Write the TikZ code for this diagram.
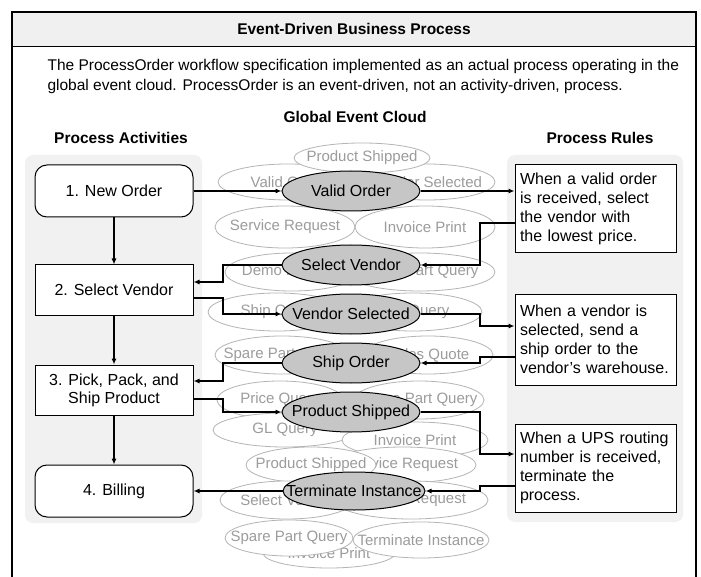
\documentclass[tikz,border=0pt]{standalone}
\usepackage{fontspec}
\setmainfont{Liberation Sans}
\usetikzlibrary{shapes.geometric,arrows.meta,calc}
\definecolor{panelgray}{HTML}{F1F1F1}
\definecolor{titlegray}{HTML}{F0F0F0}
\definecolor{keygray}{HTML}{C6C6C6}
\definecolor{cloudline}{HTML}{B4B4B4}
\definecolor{cloudtext}{HTML}{9C9C9C}
\begin{document}
\begin{tikzpicture}[x=1pt,y=-1pt,
  font=\fontsize{16}{18}\selectfont,
  arr/.style={line width=1.1pt, -{Latex[length=6pt,width=5pt]}},
  panel/.style={fill=panelgray, draw=none, rounded corners=8pt},
  actbox/.style={draw, line width=1pt, fill=white, minimum width=158pt, minimum height=50pt, align=center, inner sep=0pt},
  actround/.style={actbox, rounded corners=12pt, minimum height=52pt},
  rulebox/.style={draw, line width=1pt, fill=white, text width=151pt, minimum width=161pt, align=left, inner xsep=5pt, font=\fontsize{16}{19}\selectfont},
  cloudev/.style={ellipse, draw=cloudline, fill=white, text=cloudtext, inner sep=0pt, line width=0.8pt, font=\fontsize{15}{17}\selectfont},
  keyev/.style={ellipse, draw=black, fill=keygray, inner sep=0pt, line width=1pt, minimum width=138pt, minimum height=40pt},
  hdr/.style={font=\bfseries\fontsize{15.5}{18}\selectfont}
]
\useasboundingbox (0,0) rectangle (701,577);
\fill[white] (0,0) rectangle (701,577);
% frame and title
\fill[titlegray] (12,12) rectangle (696,47);
\draw[line width=1.2pt] (12,577) -- (12,12) -- (696,12) -- (696,577);
\draw[line width=1pt] (12,47) -- (696,47);
\node[hdr] (title) at (354,29) {Event-Driven Business Process};
\node[anchor=west, align=left, font=\fontsize{15.5}{20}\selectfont] (desc) at (44,76)
  {The ProcessOrder workflow specification implemented as an actual process operating in the\\
   global event cloud. ProcessOrder is an event-driven, not an activity-driven, process.};
\node[hdr] (hcloud) at (355,117) {Global Event Cloud};
\node[hdr] (hact) at (121,138) {Process Activities};
\node[hdr] (hrule) at (600,138) {Process Rules};
% panels
\path[panel] (25,155) rectangle (202,523);
\path[panel] (507,155) rectangle (683,522);
% background cloud events
\node[cloudev, minimum width=140pt, minimum height=36pt] (c1) at (288,182) {\makebox[0pt]{Valid Order}};
\node[cloudev, minimum width=136pt, minimum height=36pt] (c2) at (427,182) {\makebox[0pt]{Vendor Selected}};
\node[cloudev, minimum width=136pt, minimum height=30pt] (c3) at (362,158) {\makebox[0pt]{Product Shipped}};
\node[cloudev, minimum width=140pt, minimum height=42pt] (c4) at (285,227) {\makebox[0pt]{Service Request}};
\node[cloudev, minimum width=140pt, minimum height=42pt] (c5) at (425,227) {\makebox[0pt]{Invoice Print}};
\node[cloudev, minimum width=134pt, minimum height=38pt] (c6) at (292,272) {\makebox[0pt]{Demo Request}};
\node[cloudev, minimum width=150pt, minimum height=38pt] (c7) at (420,272) {\makebox[0pt]{Spare Part Query}};
\node[cloudev, minimum width=138pt, minimum height=38pt] (c8) at (277,312) {\makebox[0pt]{Ship Order}};
\node[cloudev, minimum width=138pt, minimum height=38pt] (c9) at (413,312) {\makebox[0pt]{Part Query}};
\node[cloudev, minimum width=134pt, minimum height=38pt] (c10) at (282,355) {\makebox[0pt]{Spare Part Query}};
\node[cloudev, minimum width=130pt, minimum height=38pt] (c11) at (428,355) {\makebox[0pt]{Sales Quote}};
\node[cloudev, minimum width=126pt, minimum height=38pt] (c12) at (280,400) {\makebox[0pt]{Price Query}};
\node[cloudev, minimum width=130pt, minimum height=38pt] (c13) at (419,400) {\makebox[0pt]{Spare Part Query}};
\node[cloudev, minimum width=144pt, minimum height=34pt] (c14) at (285,430) {\makebox[0pt]{GL Query}};
\node[cloudev, minimum width=146pt, minimum height=36pt] (c15) at (415,440) {\makebox[0pt]{Invoice Print}};
\node[cloudev, minimum width=146pt, minimum height=36pt] (c16) at (403,465) {\makebox[0pt]{Service Request}};
\node[cloudev, minimum width=130pt, minimum height=36pt] (c17) at (311,465) {\makebox[0pt]{Product Shipped}};
\node[cloudev, minimum width=134pt, minimum height=38pt] (c18) at (287,500) {\makebox[0pt]{Select Vendor}};
\node[cloudev, minimum width=154pt, minimum height=38pt] (c19) at (411,500) {\makebox[0pt]{Service Request}};
\node[cloudev, minimum width=132pt, minimum height=30pt] (c20) at (329,553) {\makebox[0pt]{Invoice Print}};
\node[cloudev, minimum width=128pt, minimum height=36pt] (c21) at (289,538) {\makebox[0pt]{Spare Part Query}};
\node[cloudev, minimum width=136pt, minimum height=36pt] (c22) at (421,540) {\makebox[0pt]{Terminate Instance}};
% key events
\node[keyev] (e1) at (351,191) {\makebox[0pt]{Valid Order}};
\node[keyev] (e2) at (351,265) {\makebox[0pt]{Select Vendor}};
\node[keyev] (e3) at (351,314) {\makebox[0pt]{Vendor Selected}};
\node[keyev] (e4) at (351,363) {\makebox[0pt]{Ship Order}};
\node[keyev] (e5) at (351,412) {\makebox[0pt]{Product Shipped}};
\node[keyev, minimum width=142pt, minimum height=38pt] (e6) at (354,491) {\makebox[0pt]{Terminate Instance}};
% activities
\node[actround] (a1) at (114,191) {1. New Order};
\node[actbox] (a2) at (114,290) {2. Select Vendor};
\node[actbox] (a3) at (114,390) {3. Pick, Pack, and\\Ship Product};
\node[actround] (a4) at (114,491) {4. Billing};
% rules
\node[rulebox, minimum height=88pt] (r1) at (595.5,209) {When a valid order\\is received, select\\the vendor with\\the lowest price.};
\node[rulebox, minimum height=91pt] (r2) at (595.5,339.5) {When a vendor is\\selected, send a\\ship order to the\\vendor's warehouse.};
\node[rulebox, minimum height=88pt] (r3) at (595.5,468) {When a UPS routing\\number is received,\\terminate the\\process.};
% activity flow
\draw[arr] (a1) -- (a2);
\draw[arr] (a2) -- (a3);
\draw[arr] (a3) -- (a4);
% event connectors
\draw[arr] (a1.east) -- (e1.west);
\draw[arr] (e1.east) -- (e1.east -| r1.west);
\draw[arr] (r1.west |- 0,223) -| (480,265) -- (e2.east);
\draw[arr] (e2.west) -| (223,282) -- (a2.east |- 0,282);
\draw[arr] (a2.east |- 0,298) -| (223,314) -- (e3.west);
\draw[arr] (e3.east) -| (480,326) -- (r2.west |- 0,326);
\draw[arr] (r2.west |- 0,357) -| (480,363) -- (e4.east);
\draw[arr] (e4.west) -| (223,381) -- (a3.east |- 0,381);
\draw[arr] (a3.east |- 0,399) -| (223,412) -- (e5.west);
\draw[arr] (e5.east) -| (480,454) -- (r3.west |- 0,454);
\draw[arr] (r3.west |- 0,486) -| (480,491) -- (e6.east);
\draw[arr] (e6.west) -- (a4.east);
\end{tikzpicture}
\end{document}
